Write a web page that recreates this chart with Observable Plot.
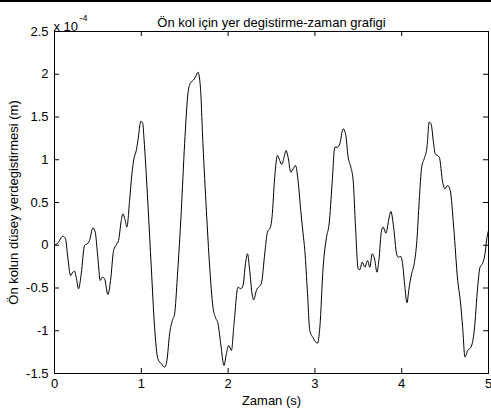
<!DOCTYPE html>
<html>
<head>
<meta charset="utf-8">
<script src="https://cdn.jsdelivr.net/npm/d3@7"></script>
<script src="https://cdn.jsdelivr.net/npm/@observablehq/plot@0.6"></script>
<style>
  html, body { margin: 0; padding: 0; background: #fff; }
  #wrap { position: relative; width: 491px; height: 415px; }
  #bar { position: absolute; left: 0; top: 0; width: 491px; height: 2px; background: #000; }
</style>
</head>
<body>
<div id="wrap"><div id="bar"></div></div>
<script>
// Time (s)
const time = [
  0, 0.038, 0.096, 0.127, 0.153, 0.185, 0.211, 0.231, 0.250, 0.277,
  0.308, 0.346, 0.384, 0.404, 0.442, 0.469, 0.499, 0.527, 0.550, 0.577,
  0.615, 0.646, 0.681, 0.712, 0.738, 0.769, 0.788, 0.815, 0.834, 0.865,
  0.892, 0.915, 0.942, 0.961, 0.995, 1.018, 1.030, 1.076, 1.115, 1.153,
  1.191, 1.231, 1.269, 1.295, 1.326, 1.358, 1.384, 1.415, 1.461, 1.499,
  1.537, 1.565, 1.595, 1.623, 1.653, 1.681, 1.710, 1.750, 1.788, 1.826,
  1.853, 1.884, 1.915, 1.953, 1.980, 2.007, 2.038, 2.068, 2.114, 2.145,
  2.172, 2.200, 2.223, 2.249, 2.276, 2.295, 2.326, 2.384, 2.422, 2.453,
  2.488, 2.506, 2.537, 2.569, 2.595, 2.618, 2.645, 2.668, 2.691, 2.722,
  2.749, 2.776, 2.806, 2.837, 2.864, 2.884, 2.915, 2.941, 2.979, 3.030,
  3.057, 3.095, 3.134, 3.164, 3.198, 3.230, 3.261, 3.287, 3.325, 3.353,
  3.383, 3.414, 3.441, 3.468, 3.498, 3.518, 3.544, 3.576, 3.607, 3.633,
  3.660, 3.691, 3.714, 3.737, 3.768, 3.787, 3.818, 3.856, 3.875, 3.907,
  3.941, 3.960, 3.991, 4.010, 4.037, 4.060, 4.086, 4.114, 4.144, 4.175,
  4.202, 4.230, 4.259, 4.291, 4.317, 4.337, 4.368, 4.386, 4.433, 4.472,
  4.498, 4.529, 4.559, 4.599, 4.645, 4.675, 4.702, 4.729, 4.760, 4.798,
  4.836, 4.875, 4.902, 4.933, 4.960, 4.983, 5.0
];
// Vertical displacement of the forearm, in units of 1e-4 m
const displacement = [
  0, 0.024, 0.106, 0.075, -0.140, -0.354, -0.315, -0.304, -0.374, -0.509,
  -0.334, -0.003, 0.024, 0.056, 0.204, 0.153, -0.140, -0.412, -0.374, -0.392,
  -0.576, -0.412, -0.061, 0.005, 0.056, 0.289, 0.368, 0.289, 0.211, 0.523,
  0.836, 1.011, 1.108, 1.225, 1.451, 1.420, 1.264, 0.485, -0.257, -0.958,
  -1.328, -1.387, -1.426, -1.348, -1.036, -0.880, -0.802, -0.374, 0.406, 1.187,
  1.771, 1.895, 1.927, 1.965, 2.024, 1.849, 1.187, 0.406, -0.257, -0.725,
  -0.842, -0.919, -1.153, -1.406, -1.270, -1.172, -1.231, -0.919, -0.491, -0.509,
  -0.471, -0.217, -0.100, -0.295, -0.568, -0.638, -0.529, -0.444, -0.100, 0.153,
  0.211, 0.328, 0.796, 1.050, 0.991, 0.944, 1.030, 1.108, 1.030, 0.854,
  0.894, 0.933, 0.757, 0.406, 0.134, -0.061, -0.568, -0.997, -1.082, -1.146,
  -0.958, -0.257, 0.094, 0.251, 0.719, 1.147, 1.147, 1.187, 1.362, 1.304,
  1.030, 0.913, 0.757, 0.211, -0.275, -0.287, -0.198, -0.257, -0.178, -0.257,
  -0.100, -0.178, -0.315, -0.178, 0.173, 0.211, 0.141, 0.328, 0.395, 0.211,
  -0.100, -0.140, -0.132, -0.217, -0.491, -0.673, -0.491, -0.334, -0.217, 0.056,
  0.523, 0.913, 1.011, 1.147, 1.439, 1.424, 1.187, 1.070, 1.030, 0.737,
  0.660, 0.699, 0.640, 0.211, -0.412, -0.646, -0.958, -1.309, -1.231, -1.192,
  -0.997, -0.491, -0.257, -0.210, -0.100, 0.094, 0.173
];

const xTicks = [0, 1, 2, 3, 4, 5];
const yTicks = [-1.5, -1, -0.5, 0, 0.5, 1, 1.5, 2, 2.5];

const title = "Ön kol için yer degistirme-zaman grafigi";
const xLabel = "Zaman (s)";
const yLabel = "Ön kolun düsey yerdegistirmesi (m)";
const multiplier = "x 10";
const exponent = "-4";

const rows = time.map((t, i) => ({t, v: displacement[i]}));

const W = 491, H = 415;
const mL = 54, mR = 3, mT = 31, mB = 42;
const innerW = W - mL - mR, innerH = H - mT - mB;
const tick = 5;
const font = "'Liberation Sans', Arial, Helvetica, sans-serif";

const chart = Plot.plot({
  width: W,
  height: H,
  marginLeft: mL,
  marginRight: mR,
  marginTop: mT,
  marginBottom: mB,
  style: {fontFamily: font, fontSize: "13px", color: "#000", background: "transparent", overflow: "visible"},
  x: {domain: [0, 5], label: null},
  y: {domain: [-1.5, 2.5], label: null},
  marks: [
    // tick labels (ticks themselves drawn inward below)
    Plot.axisX({ticks: xTicks, tickSize: 0, tickPadding: 5, tickFormat: d => String(d), label: null, fill: "#000"}),
    Plot.axisY({ticks: yTicks, tickSize: 0, tickPadding: 6, tickFormat: d => String(d), label: null, fill: "#000"}),
    // inward ticks on all four sides
    Plot.tickX(xTicks, {x: d => d, insetTop: innerH - tick, stroke: "#000"}),
    Plot.tickX(xTicks, {x: d => d, insetBottom: innerH - tick, stroke: "#000"}),
    Plot.tickY(yTicks, {y: d => d, insetRight: innerW - tick, stroke: "#000"}),
    Plot.tickY(yTicks, {y: d => d, insetLeft: innerW - tick, stroke: "#000"}),
    Plot.frame({stroke: "#000"}),
    Plot.line(rows, {x: "t", y: "v", stroke: "#000", strokeWidth: 1, curve: "monotone-x"}),
    // title and axis titles
    Plot.text([title], {text: d => d, frameAnchor: "top", dy: -14, fontSize: 13}),
    Plot.text([xLabel], {text: d => d, frameAnchor: "bottom", dy: 31, fontSize: 13}),
    Plot.text([yLabel], {text: d => d, frameAnchor: "left", textAnchor: "middle", dx: -41, rotate: -90, fontSize: 13}),
    // exponent multiplier of the y axis
    Plot.text([multiplier], {text: d => d, frameAnchor: "top-left", textAnchor: "start", dx: -1, dy: -10, fontSize: 13}),
    Plot.text([exponent], {text: d => d, frameAnchor: "top-left", textAnchor: "start", dx: 25, dy: -17, fontSize: 9})
  ]
});

document.getElementById("wrap").appendChild(chart);
</script>
</body>
</html>
